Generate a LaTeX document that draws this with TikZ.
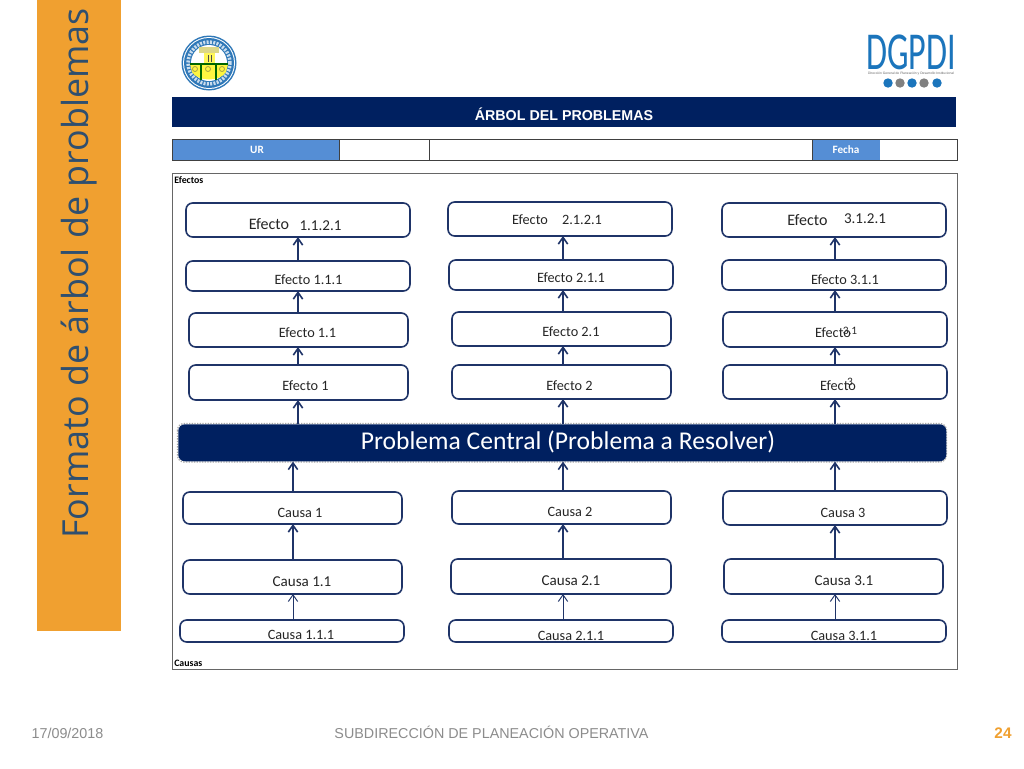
\documentclass[tikz,border=0pt]{standalone}
\usepackage{fontspec}
\setmainfont{Carlito}
\newfontfamily\arialf{Liberation Sans}
\newfontfamily\titlef{Open Sans}
\newfontfamily\logof[FakeStretch=0.64]{Carlito}
\usetikzlibrary{arrows.meta}
\definecolor{navy}{HTML}{002060}
\definecolor{boxline}{HTML}{1F3468}
\definecolor{midblue}{HTML}{558ED5}
\definecolor{orangeb}{HTML}{F0A030}
\definecolor{titlec}{HTML}{2F4F6F}
\definecolor{logob}{HTML}{1B75BC}
\definecolor{foot}{HTML}{8C8C8C}
\definecolor{ringb}{HTML}{2F78B8}
\tikzset{
  treebox/.style={draw=boxline,line width=1.2pt,rounded corners=5pt,fill=white,inner sep=0pt,outer sep=0pt},
  lbl/.style={inner sep=0pt,text=black!85,font=\fontsize{10.7}{11}\selectfont},
  lblb/.style={inner sep=0pt,text=black!85,font=\fontsize{11.3}{12}\selectfont},
  lblc/.style={inner sep=0pt,text=black!85,font=\fontsize{12}{13}\selectfont},
  arr/.style={draw=boxline,line width=1.4pt,-{Straight Barb[length=5pt,width=7pt,line width=1.2pt]}},
  thinarr/.style={draw=boxline,line width=.7pt,-{Straight Barb[length=5pt,width=7pt,line width=.7pt]}},
  rule/.style={draw=black!75,line width=.55pt},
  small/.style={inner sep=0pt,text=black,font=\bfseries\fontsize{7.4}{8}\selectfont},
}
% name, x1, y1, x2, y2
\newcommand{\tbox}[5]{\node[treebox,minimum width=#4*.75pt-#2*.75pt,minimum height=#5*.75pt-#3*.75pt,anchor=north west] (#1) at (#2,#3) {};}
\begin{document}
\begin{tikzpicture}[x=.75pt,y=-.75pt]
\useasboundingbox (0,0) rectangle (1024,768);
\fill[white] (0,0) rectangle (1024,768);
% side band
\node[fill=orangeb,minimum width=84*.75pt,minimum height=631*.75pt,inner sep=0pt,anchor=north west] (band) at (37,0) {};
\node[rotate=90,text=titlec,inner sep=0pt,font=\titlef\fontsize{26.9}{28}\selectfont] (title) at (79.5,273.5) {Formato de árbol de problemas};
% crest
\fill[ringb] (209,63) circle (27.5*.75pt);
\fill[white] (209,63) circle (26*.75pt);
\fill[ringb] (209,63) circle (25*.75pt);
\draw[white!75!ringb,line width=2.6pt,dash pattern=on 1.5pt off 1pt] (209,63) circle (21*.75pt);
\fill[white] (209,63) circle (18*.75pt);
\fill[yellow!75!white] (190,64) -- (228,64) -- (226,72) .. controls (220,82) and (198,82) .. (192,72) -- cycle;
\draw[black!50!green!80!black,line width=.9pt] (190,64) -- (228,64) (201,64) -- (201,80) (216,64) -- (216,80);
\fill[gray!45!yellow!70!white] (199,47) rectangle (219,53);
\fill[yellow!65!white] (204,53) rectangle (215,63);
\draw[black!70,line width=.5pt] (208,55) -- (208,62) (211,55) -- (211,62);
\foreach \cx in {195,208,222} \draw[black!40!yellow,line width=.6pt] (\cx,69) circle (2.5*.75pt);
% DGPDI logo
\node[inner sep=0pt,text=logob,font=\logof\fontsize{40}{41}\selectfont] (dgpdi) at (911,52.5) {DGPDI};
\node[inner sep=0pt,text=black!60,font=\arialf\fontsize{2.5}{3}\selectfont] (dgsub) at (911,74) {Dirección General de Planeación y Desarrollo Institucional};
\foreach \dx/\dc in {888/logob,900/gray,912/logob,924/gray,937/logob} \fill[\dc] (\dx,83) circle (4.7*.75pt);
% header
\node[fill=navy,minimum width=784*.75pt,minimum height=30*.75pt,inner sep=0pt,anchor=north west] (head) at (172,97) {};
\node[inner sep=0pt,text=white,font=\arialf\bfseries\fontsize{10.7}{11}\selectfont] (headt) at (564,114) {ÁRBOL DEL PROBLEMAS};
% info row
\fill[midblue] (172,139) rectangle (339,160);
\fill[midblue] (812,139) rectangle (880,160);
\draw[rule] (172,139) rectangle (957,160);
\draw[rule] (339,139) -- (339,160) (429,139) -- (429,160) (812,139) -- (812,160);
\node[inner sep=0pt,text=white,font=\bfseries\fontsize{8.4}{9}\selectfont] (ur) at (257,150) {UR};
\node[inner sep=0pt,text=white,font=\bfseries\fontsize{8.4}{9}\selectfont] (fecha) at (846,150) {Fecha};
% main frame
\draw[draw=black!60,line width=.65pt] (172,173) rectangle (957,669);
\node[small,anchor=west] (efectos) at (174,180) {Efectos};
\node[small,anchor=west] (causas) at (174,663) {Causas};
% effects
\tbox{ea4}{186}{203}{410}{237}
\tbox{ea3}{186}{261}{410}{291}
\tbox{ea2}{189}{313}{408}{347}
\tbox{ea1}{189}{365}{408}{400}
\tbox{eb4}{448}{202}{672}{236}
\tbox{eb3}{449}{260}{673}{290}
\tbox{eb2}{452}{312}{671}{346}
\tbox{eb1}{452}{365}{671}{399}
\tbox{ec4}{722}{203}{946}{237}
\tbox{ec3}{722}{260}{946}{290}
\tbox{ec2}{723}{312}{947}{347}
\tbox{ec1}{723}{365}{947}{399}
% causes
\tbox{ca1}{183}{492}{402}{524}
\tbox{ca2}{183}{560}{402}{594}
\tbox{ca3}{180}{620}{404}{642}
\tbox{cb1}{452}{491}{671}{524}
\tbox{cb2}{451}{559}{671}{594}
\tbox{cb3}{449}{620}{673}{642}
\tbox{cc1}{723}{491}{947}{525}
\tbox{cc2}{724}{559}{943}{594}
\tbox{cc3}{722}{620}{946}{642}
% central problem
\draw[gray!70,line width=1pt,rounded corners=5pt,densely dotted] (177.5,423.5) rectangle (946.5,462);
\node[fill=navy,rounded corners=5pt,minimum width=768*.75pt,minimum height=37*.75pt,inner sep=0pt,anchor=north west] (prob) at (178,424) {};
\node[inner sep=0pt,text=white,font=\fontsize{19.2}{20}\selectfont] (probt) at (568,441.5) {Problema Central (Problema a Resolver)};
% labels
\node[lblc] (t1) at (269,224) {Efecto};
\node[lblb] (t2) at (320.5,225.5) {1.1.2.1};
\node[lbl] (t3) at (308.5,280) {Efecto 1.1.1};
\node[lbl] (t4) at (307.5,333) {Efecto 1.1};
\node[lbl] (t5) at (305.5,386) {Efecto 1};
\node[lbl] (t6) at (530,220) {Efecto};
\node[lbl] (t7) at (582,220) {2.1.2.1};
\node[lbl] (t8) at (571,278) {Efecto 2.1.1};
\node[lbl] (t9) at (571,332) {Efecto 2.1};
\node[lbl] (t10) at (569.5,386) {Efecto 2};
\node[lblc] (t11) at (807.5,220) {Efecto};
\node[lblb] (t12) at (865,219) {3.1.2.1};
\node[lbl] (t13) at (845,279.5) {Efecto 3.1.1};
\node[lbl] (t14) at (833,333) {Efecto};
\node[inner sep=0pt,text=black!85,font=\fontsize{8.5}{9}\selectfont] (t15) at (850,330.5) {3.1};
\node[lbl] (t16) at (838,386) {Efecto};
\node[inner sep=0pt,text=black!85,font=\fontsize{8.5}{9}\selectfont] (t17) at (850,381.5) {3};
\node[lbl] (t18) at (300,512.5) {Causa 1};
\node[lblb] (t19) at (302,581.5) {Causa 1.1};
\node[lbl] (t20) at (301,635) {Causa 1.1.1};
\node[lbl] (t21) at (570,511.5) {Causa 2};
\node[lblb] (t22) at (571,580.5) {Causa 2.1};
\node[lbl] (t23) at (571,635.5) {Causa 2.1.1};
\node[lbl] (t24) at (843,512.5) {Causa 3};
\node[lblb] (t25) at (844,580.5) {Causa 3.1};
\node[lbl] (t26) at (844,635.5) {Causa 3.1.1};
% connector columns
\coordinate (xa) at (298,0);
\coordinate (xac) at (293,0);
\coordinate (xb) at (563,0);
\coordinate (xc) at (835,0);
% effect connectors
\foreach \col/\xx in {a/xa,b/xb,c/xc}{
  \draw[arr] (prob.north -| \xx) -- (e\col1.south -| \xx);
  \draw[arr] (e\col1.north -| \xx) -- (e\col2.south -| \xx);
  \draw[arr] (e\col2.north -| \xx) -- (e\col3.south -| \xx);
  \draw[arr] (e\col3.north -| \xx) -- (e\col4.south -| \xx);
}
% cause connectors
\foreach \col/\xx in {a/xac,b/xb,c/xc}{
  \draw[arr] (c\col1.north -| \xx) -- (prob.south -| \xx);
  \draw[arr] (c\col2.north -| \xx) -- (c\col1.south -| \xx);
  \draw[thinarr] (c\col3.north -| \xx) -- (c\col2.south -| \xx);
}
% footer
\node[inner sep=0pt,anchor=base,text=foot,font=\arialf\fontsize{10.75}{11}\selectfont] (date) at (67.5,738) {17/09/2018};
\node[inner sep=0pt,anchor=base,text=foot,font=\arialf\fontsize{10.75}{11}\selectfont] (sub) at (491.5,738) {SUBDIRECCIÓN DE PLANEACIÓN OPERATIVA};
\node[inner sep=0pt,anchor=base,text=orangeb,font=\arialf\bfseries\fontsize{11.5}{12}\selectfont] (num) at (1003,738) {24};
\end{tikzpicture}
\end{document}
